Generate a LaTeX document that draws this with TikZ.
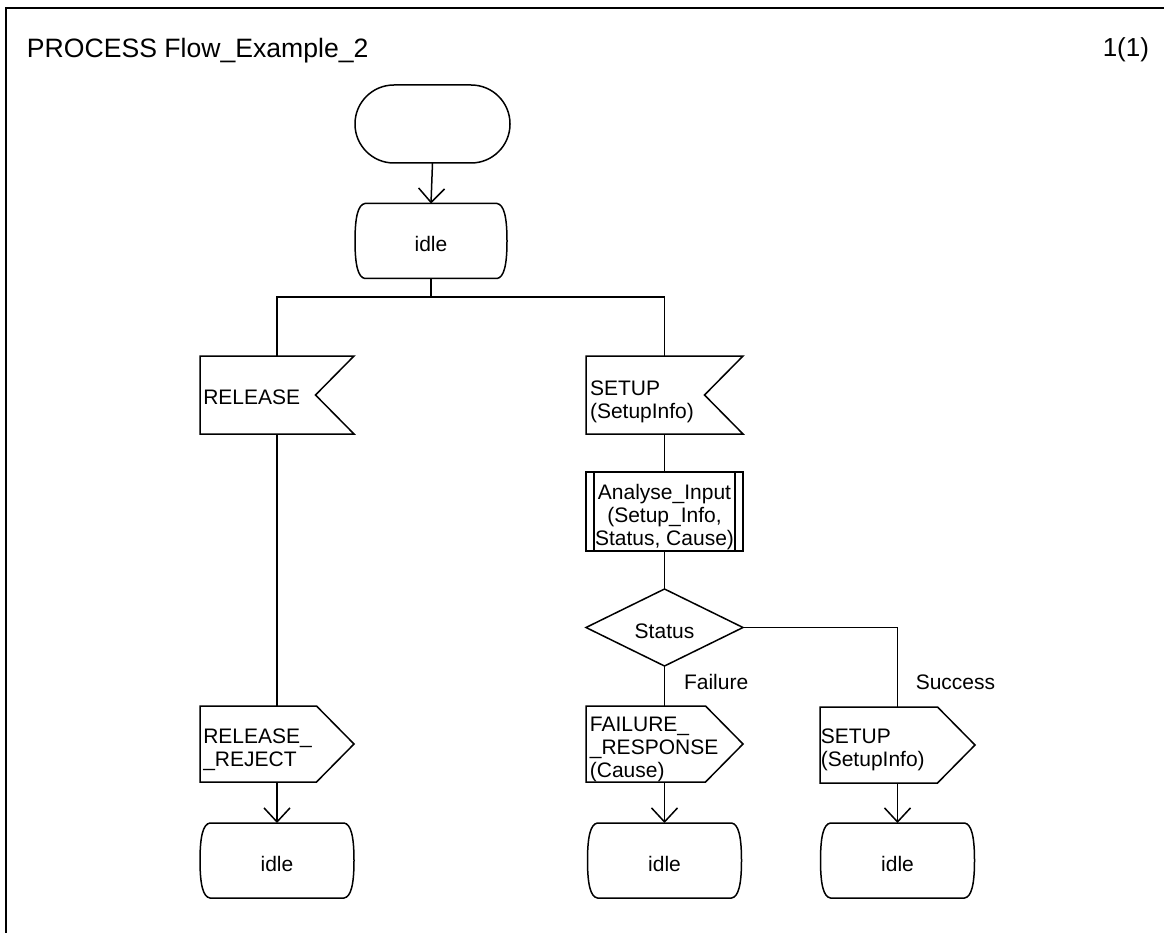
\documentclass[tikz,border=0pt]{standalone}
\usepackage{fontspec}
\setmainfont{Liberation Sans}
\usetikzlibrary{arrows.meta,calc}

\begin{document}
\begin{tikzpicture}[x=1pt,y=-1pt,line width=1.5pt,line join=miter,
  every node/.style={inner sep=0pt,outer sep=0pt,font=\fontsize{21}{23}\selectfont},
  >={Straight Barb[length=14pt,width=26pt]},
  % SDL start symbol
  startsym/.style={draw,rounded corners=38.9pt,minimum width=155pt,minimum height=78pt},
  % SDL state symbol: flat top and bottom, bulging sides
  statesym/.style={minimum width=#1,minimum height=75pt,
    append after command={\pgfextra{
      \draw ($(\tikzlastnode.north west)+(10,0)$) -- ($(\tikzlastnode.north east)+(-10,0)$)
        .. controls +(7,1) and +(0,-24) .. (\tikzlastnode.east)
        .. controls +(0,24) and +(7,-1) .. ($(\tikzlastnode.south east)+(-10,0)$)
        -- ($(\tikzlastnode.south west)+(10,0)$)
        .. controls +(-7,-1) and +(0,24) .. (\tikzlastnode.west)
        .. controls +(0,-24) and +(-7,1) .. ($(\tikzlastnode.north west)+(10,0)$) -- cycle;}}},
  statesym/.default=154pt,
  % SDL input symbol: notch on the right
  inputsym/.style={minimum width=#1,minimum height=78pt,
    append after command={\pgfextra{
      \draw (\tikzlastnode.north west) -- (\tikzlastnode.north east)
        -- ($(\tikzlastnode.east)+(-38.5,0)$) -- (\tikzlastnode.south east)
        -- (\tikzlastnode.south west) -- cycle;}}},
  % SDL output symbol: pointer on the right
  outputsym/.style={minimum width=#1,minimum height=76pt,
    append after command={\pgfextra{
      \draw (\tikzlastnode.north west) -- ($(\tikzlastnode.north east)+(-37.5,0)$)
        -- (\tikzlastnode.east) -- ($(\tikzlastnode.south east)+(-37.5,0)$)
        -- (\tikzlastnode.south west) -- cycle;}}},
  % SDL procedure call: box with inner side bars
  procsym/.style={minimum width=157pt,minimum height=79pt,
    append after command={\pgfextra{
      \draw (\tikzlastnode.north west) rectangle (\tikzlastnode.south east);
      \draw ($(\tikzlastnode.north west)+(8,0)$) -- ($(\tikzlastnode.south west)+(8,0)$);
      \draw ($(\tikzlastnode.north east)+(-8,0)$) -- ($(\tikzlastnode.south east)+(-8,0)$);}}},
  % SDL decision
  decisym/.style={minimum width=157pt,minimum height=77pt,
    append after command={\pgfextra{
      \draw (\tikzlastnode.north) -- (\tikzlastnode.east) -- (\tikzlastnode.south)
        -- (\tikzlastnode.west) -- cycle;}}},
  lefttext/.style={anchor=west,align=left},
  midtext/.style={align=center}
]
\useasboundingbox (0,0) rectangle (1164,933);

% diagram frame
\draw[line width=1.7pt] (6,933) -- (6,8) -- (1164,8);

\node[anchor=base west,font=\fontsize{26.6}{30}\selectfont] (title) at (27,58) {PROCESS Flow\_Example\_2};
\node[anchor=base east,font=\fontsize{26}{30}\selectfont] (page) at (1149,57) {1(1)};

% symbols
\node[startsym] (start) at (432.5,124) {};
\node[statesym=152pt,label={[midtext,yshift=-2.5pt]center:idle}] (idle0) at (431,241) {};

\node[inputsym=154pt,label={[lefttext,xshift=3.3pt,yshift=-2.5pt]west:RELEASE}] (rel) at (277,395) {};
\node[inputsym=157pt,label={[lefttext,xshift=4pt,yshift=-6.5pt]west:{SETUP\\(SetupInfo)}}] (setin) at (664.5,395) {};

\node[procsym,label={[midtext,yshift=-5.5pt]center:{Analyse\_Input\\(Setup\_Info,\\Status, Cause)}}] (ana) at (664.5,511.5) {};
\node[decisym,label={[midtext,yshift=-3.3pt]center:Status}] (dia) at (664.5,627.5) {};

\node[outputsym=154pt,label={[lefttext,xshift=3.3pt,yshift=-5.3pt]west:{RELEASE\_\\\_REJECT}}] (rr) at (277,744) {};
\node[outputsym=157pt,label={[lefttext,xshift=3.9pt,yshift=-5.7pt]west:{FAILURE\_\\\_RESPONSE\\(Cause)}}] (fr) at (664.5,744) {};
\node[outputsym=155pt,label={[lefttext,xshift=0.8pt,yshift=-5.2pt]west:{SETUP\\(SetupInfo)}}] (so) at (897.5,745) {};

\node[statesym,label={[midtext,yshift=-3pt]center:idle}] (idleL) at (277,860.5) {};
\node[statesym,label={[midtext,yshift=-3pt]center:idle}] (idleM) at (664.5,860.5) {};
\node[statesym,label={[midtext,yshift=-3pt]center:idle}] (idleR) at (897.5,860.5) {};

% branch labels of the decision
\node[anchor=base west] (lfail) at (684,689) {Failure};
\node[anchor=base west] (lsucc) at (915.8,689.3) {Success};

% connectors
\coordinate (br) at (431,297);
\draw[->] (start.south) -- (idle0.north);
\draw (idle0.south) -- (br);
\draw (rel.north) |- (br) -| (setin.north);
\draw (rel.south) -- (rr.north);
\draw (setin.south) -- (ana.north);
\draw (ana.south) -- (dia.north);
\draw (dia.south) -- (fr.north);
\draw (dia.east) -| (so.north);
\draw[->] (rr.south) -- (idleL.north);
\draw[->] (fr.south) -- (idleM.north);
\draw[->] (so.south) -- (idleR.north);
\end{tikzpicture}
\end{document}
